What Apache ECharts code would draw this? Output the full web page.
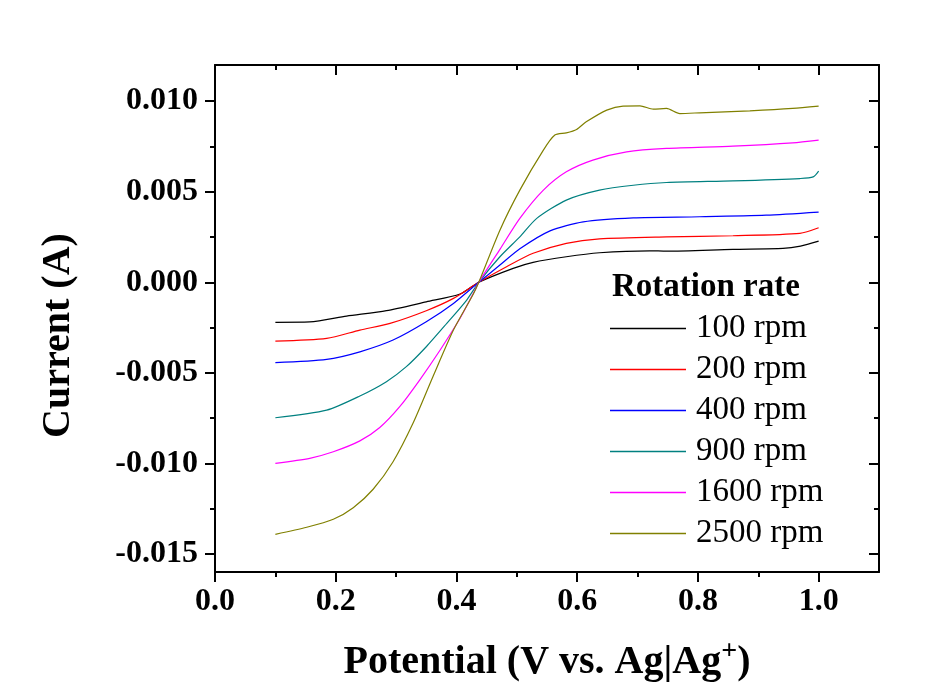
<!DOCTYPE html>
<html>
<head>
<meta charset="utf-8">
<script src="https://cdn.jsdelivr.net/npm/echarts/dist/echarts.min.js"></script>
<style>
html,body{margin:0;padding:0;background:#fff;}
#chart{width:947px;height:700px;}
</style>
</head>
<body>
<div id="chart"></div>
<script>
// ---- data ----
const seriesNames = ['100 rpm', '200 rpm', '400 rpm', '900 rpm', '1600 rpm', '2500 rpm'];
const seriesColors = ['#000000', '#ff0000', '#0000ff', '#008080', '#ff00ff', '#808000'];

const rpm100 = [[0.10,-0.00221],[0.157,-0.00219],[0.218,-0.00187],[0.284,-0.00157],[0.350,-0.00108],[0.406,-0.00065],[0.437,0],[0.494,0.00077],[0.527,0.00110],[0.582,0.00141],[0.637,0.00163],[0.720,0.00174],[0.748,0.00172],[0.858,0.00182],[0.941,0.00187],[0.970,0.00200],[1.00,0.00227]];
const rpm200 = [[0.10,-0.00325],[0.185,-0.00310],[0.240,-0.00264],[0.290,-0.00227],[0.350,-0.00157],[0.395,-0.00089],[0.437,0],[0.483,0.00086],[0.527,0.00160],[0.582,0.00215],[0.637,0.00240],[0.748,0.00251],[0.858,0.00257],[0.969,0.00270],[1.00,0.00301]];
const rpm400 = [[0.10,-0.00444],[0.185,-0.00426],[0.240,-0.00384],[0.295,-0.00319],[0.350,-0.00218],[0.395,-0.00117],[0.437,0],[0.472,0.00095],[0.505,0.00185],[0.555,0.00284],[0.610,0.00334],[0.693,0.00356],[0.803,0.00362],[0.913,0.00371],[1.00,0.00388]];
const rpm900 = [[0.10,-0.00748],[0.185,-0.00706],[0.240,-0.00628],[0.284,-0.00549],[0.317,-0.00466],[0.350,-0.00356],[0.384,-0.00227],[0.417,-0.00098],[0.437,0],[0.472,0.00141],[0.505,0.00251],[0.533,0.00353],[0.582,0.00454],[0.637,0.00509],[0.693,0.00536],[0.748,0.00551],[0.858,0.00560],[0.969,0.00573],[0.991,0.00582],[1.00,0.00614]];
const rpm1600 = [[0.10,-0.0100],[0.157,-0.00972],[0.196,-0.00936],[0.240,-0.00876],[0.273,-0.00802],[0.306,-0.00687],[0.339,-0.00540],[0.373,-0.00374],[0.406,-0.00199],[0.428,-0.00061],[0.437,0],[0.472,0.00182],[0.505,0.00353],[0.544,0.00509],[0.582,0.00610],[0.626,0.00675],[0.682,0.00720],[0.748,0.00739],[0.858,0.00752],[0.957,0.00770],[1.00,0.00785]];
const rpm2500 = [[0.10,-0.01392],[0.152,-0.01353],[0.196,-0.01309],[0.229,-0.01245],[0.262,-0.01143],[0.295,-0.00991],[0.328,-0.00779],[0.361,-0.00522],[0.395,-0.00264],[0.428,-0.00065],[0.437,0],[0.472,0.00288],[0.505,0.00509],[0.544,0.00730],[0.563,0.00813],[0.582,0.00825],[0.599,0.00844],[0.615,0.00886],[0.649,0.00951],[0.676,0.00973],[0.704,0.00974],[0.726,0.00956],[0.748,0.00960],[0.770,0.00932],[0.803,0.00936],[0.886,0.00947],[0.957,0.00960],[1.00,0.00973]];
const seriesData = [rpm100, rpm200, rpm400, rpm900, rpm1600, rpm2500];

const xMajorTicks = [0, 0.2, 0.4, 0.6, 0.8, 1.0];
const xMinorTicks = [0.1, 0.3, 0.5, 0.7, 0.9];
const yMajorTicks = [-0.015, -0.010, -0.005, 0, 0.005, 0.010];
const yMinorTicks = [-0.0125, -0.0075, -0.0025, 0.0025, 0.0075];

// ---- chart ----
const FONT = "'Liberation Serif', 'Times New Roman', serif";
const axisLineStyle = {color: '#000', width: 2};
const xRange = {min: 0, max: 1.1};
const yRange = {min: -0.016, max: 0.012};

function xAxisDef(pos, ticks, len, inside, withLine, withLabel) {
  const a = {
    type: 'value', position: pos, min: xRange.min, max: xRange.max,
    axisLine: {show: withLine, onZero: false, lineStyle: axisLineStyle},
    axisTick: {show: true, inside: inside, length: len, customValues: ticks, lineStyle: axisLineStyle},
    axisLabel: {show: withLabel},
    splitLine: {show: false}, minorTick: {show: false}
  };
  if (withLabel) {
    a.axisLabel = {show: true, customValues: ticks, formatter: v => v.toFixed(1),
      fontFamily: FONT, fontWeight: 'bold', fontSize: 32, color: '#000', margin: 14};
    a.name = 'Potential (V vs. Ag|Ag{sup|+})';
    a.nameLocation = 'middle';
    a.nameGap = 66;
    a.nameTextStyle = {fontFamily: FONT, fontWeight: 'bold', fontSize: 40, color: '#000',
      rich: {sup: {fontFamily: FONT, fontWeight: 'bold', fontSize: 28, color: '#000', padding: [0, 0, 22, 0]}}};
  }
  return a;
}
function yAxisDef(pos, ticks, len, inside, withLine, withLabel) {
  const a = {
    type: 'value', position: pos, min: yRange.min, max: yRange.max,
    axisLine: {show: withLine, onZero: false, lineStyle: axisLineStyle},
    axisTick: {show: true, inside: inside, length: len, customValues: ticks, lineStyle: axisLineStyle},
    axisLabel: {show: withLabel},
    splitLine: {show: false}, minorTick: {show: false}
  };
  if (withLabel) {
    a.axisLabel = {show: true, customValues: ticks, formatter: v => v.toFixed(3),
      fontFamily: FONT, fontWeight: 'bold', fontSize: 32, color: '#000', margin: 17};
    a.name = 'Current (A)';
    a.nameLocation = 'middle';
    a.nameGap = 136;
    a.nameTextStyle = {fontFamily: FONT, fontWeight: 'bold', fontSize: 40, color: '#000', padding: [0, 34, 0, 0]};
  }
  return a;
}

const chart = echarts.init(document.getElementById('chart'), null, {renderer: 'canvas'});
chart.setOption({
  backgroundColor: '#fff',
  animation: false,
  title: {
    text: 'Rotation rate', left: 612, top: 271, padding: 0,
    textStyle: {fontFamily: FONT, fontWeight: 'bold', fontSize: 33, color: '#000'}
  },
  legend: {
    data: seriesNames, orient: 'vertical', left: 610, top: 312, padding: 0,
    icon: 'rect', itemWidth: 76, itemHeight: 1.5, itemGap: 8,
    textStyle: {fontFamily: FONT, fontSize: 33, color: '#000', lineHeight: 33, padding: [0, 0, 0, 5]}
  },
  grid: {left: 215, top: 65, width: 664, height: 507, containLabel: false},
  xAxis: [
    xAxisDef('bottom', xMajorTicks, 10, false, true, true),
    xAxisDef('bottom', xMinorTicks, 5, false, false, false),
    xAxisDef('top', xMajorTicks, 10, true, true, false),
    xAxisDef('top', xMinorTicks, 5, true, false, false)
  ],
  yAxis: [
    yAxisDef('left', yMajorTicks, 10, false, true, true),
    yAxisDef('left', yMinorTicks, 5, false, false, false),
    yAxisDef('right', yMajorTicks, 10, true, true, false),
    yAxisDef('right', yMinorTicks, 5, true, false, false)
  ],
  series: seriesNames.map((n, i) => ({
    name: n, type: 'line', xAxisIndex: 0, yAxisIndex: 0,
    data: seriesData[i], showSymbol: false, symbol: 'none',
    smooth: 0.25,
    lineStyle: {color: seriesColors[i], width: 1.2},
    itemStyle: {color: seriesColors[i]}
  }))
});
</script>
</body>
</html>
